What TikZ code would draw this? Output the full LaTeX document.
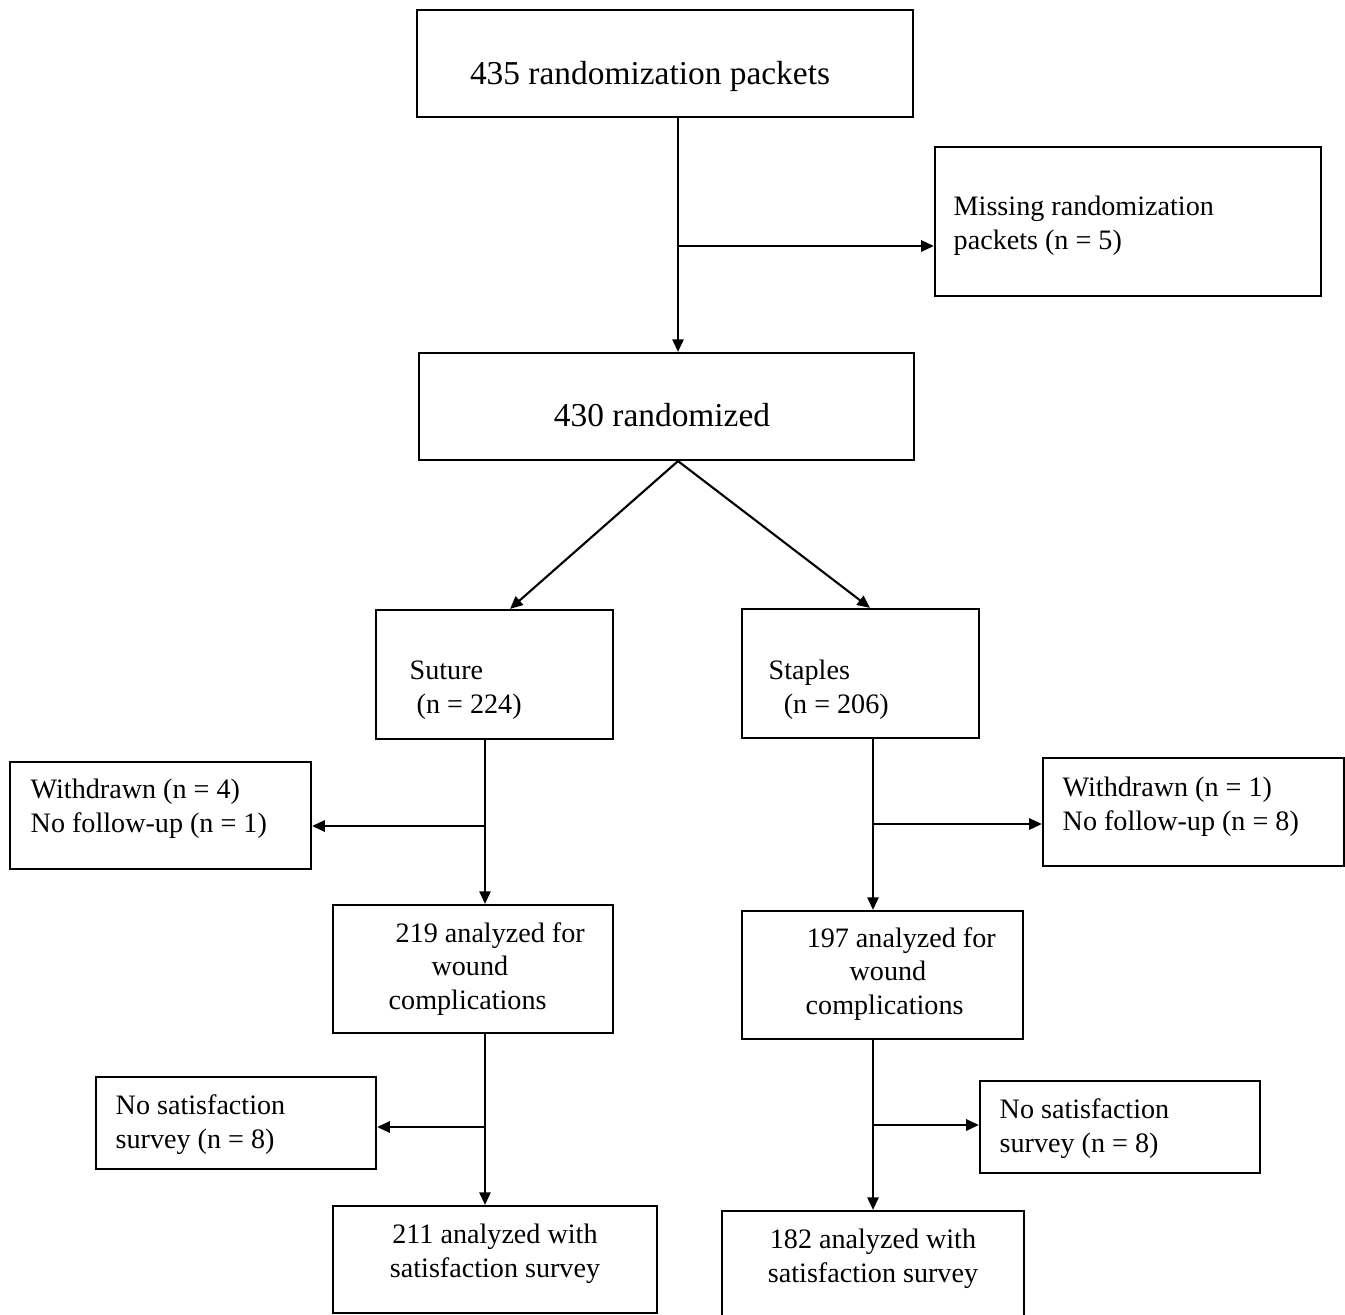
\documentclass[tikz,border=0pt]{standalone}
\usepackage{fontspec}
\setmainfont{Liberation Serif}
\usepackage{tikz}
\usetikzlibrary{arrows.meta}

\tikzset{
  box/.style={draw, line width=0.6pt, inner sep=0pt},
  txt/.style={inner sep=0pt, align=left, anchor=base west, font=\fontsize{8}{9.4}\selectfont},
  bigtxt/.style={inner sep=0pt, anchor=base, font=\fontsize{9.5}{11}\selectfont},
  arr/.style={-{Triangle[length=3.6pt,width=3.2pt]}, line width=0.6pt},
}

\begin{document}
\begin{tikzpicture}[x=0.01cm,y=-0.01cm]
        \useasboundingbox (0,0) rectangle (1345,1315);
        % boxes
        \node[box, minimum width=4.96cm, minimum height=1.07cm] (top) at (665,63.5) {};
        \node[box, minimum width=3.86cm, minimum height=1.49cm] (miss) at (1128,221.5) {};
        \node[box, minimum width=4.95cm, minimum height=1.07cm] (rand) at (666.5,406.5) {};
        \node[box, minimum width=2.37cm, minimum height=1.29cm] (sut) at (494.5,674.5) {};
        \node[box, minimum width=2.37cm, minimum height=1.29cm] (stap) at (860.5,673.5) {};
        \node[box, minimum width=3.01cm, minimum height=1.07cm] (wdL) at (160.5,815.5) {};
        \node[box, minimum width=3.01cm, minimum height=1.08cm] (wdR) at (1193.5,812) {};
        \node[box, minimum width=2.80cm, minimum height=1.28cm] (woundL) at (473,969) {};
        \node[box, minimum width=2.81cm, minimum height=1.28cm] (woundR) at (882.5,975) {};
        \node[box, minimum width=2.80cm, minimum height=0.92cm] (nosatL) at (236,1123) {};
        \node[box, minimum width=2.80cm, minimum height=0.92cm] (nosatR) at (1120,1127) {};
        \node[box, minimum width=3.24cm, minimum height=1.07cm] (satL) at (495,1259.5) {};
        \node[box, minimum width=3.02cm, minimum height=1.07cm] (satR) at (873,1264.5) {};
        % texts (base = last line)
        \node[bigtxt] (topT) at (650,84) {435 randomization packets};
        \node[txt] (missT) at (953,249) {Missing randomization\\packets (n = 5)};
        \node[bigtxt] (randT) at (662,426) {430 randomized};
        \node[txt] (sutT) at (409,713) {Suture\\\hspace*{2pt}(n = 224)};
        \node[txt] (stapT) at (768,713) {Staples\\\hspace*{4.3pt}(n = 206)};
        \node[txt] (wdLT) at (30,832) {Withdrawn (n = 4)\\No follow-up (n = 1)};
        \node[txt] (wdRT) at (1062,830) {Withdrawn (n = 1)\\No follow-up (n = 8)};
        \node[txt] (woundLT) at (388,1009) {\hspace*{2pt}219 analyzed for\\\hspace*{12.2pt}wound\\complications};
        \node[txt] (woundRT) at (805,1014) {\hspace*{0.3pt}197 analyzed for\\\hspace*{12.5pt}wound\\complications};
        \node[txt] (nosatLT) at (115,1148) {No satisfaction\\survey (n = 8)};
        \node[txt] (nosatRT) at (999,1152) {No satisfaction\\survey (n = 8)};
        \node[txt, align=center, anchor=base] (satLT) at (495,1277) {211 analyzed with\\satisfaction survey};
        \node[txt, align=center, anchor=base] (satRT) at (873,1282) {182 analyzed with\\satisfaction survey};
        % branch points
        \coordinate (forkA) at (678,246);
        \coordinate (forkL) at (485,826);
        \coordinate (forkR) at (873,824);
        \coordinate (forkLL) at (485,1127);
        \coordinate (forkRR) at (873,1125);
        % connectors
        \draw[arr] (forkA |- top.south) -- (forkA |- rand.north);
        \draw[arr] (forkA) -- (forkA -| miss.west);
        \draw[arr] (forkA |- rand.south) -- ([xshift=0.155cm]sut.north);
        \draw[arr] (forkA |- rand.south) -- ([xshift=0.095cm]stap.north);
        \draw[arr] (forkL |- sut.south) -- (forkL |- woundL.north);
        \draw[arr] (forkL) -- (forkL -| wdL.east);
        \draw[arr] (forkR |- stap.south) -- (forkR |- woundR.north);
        \draw[arr] (forkR) -- (forkR -| wdR.west);
        \draw[arr] (forkLL |- woundL.south) -- (forkLL |- satL.north);
        \draw[arr] (forkLL) -- (forkLL -| nosatL.east);
        \draw[arr] (forkRR |- woundR.south) -- (forkRR |- satR.north);
        \draw[arr] (forkRR) -- (forkRR -| nosatR.west);
\end{tikzpicture}
\end{document}
